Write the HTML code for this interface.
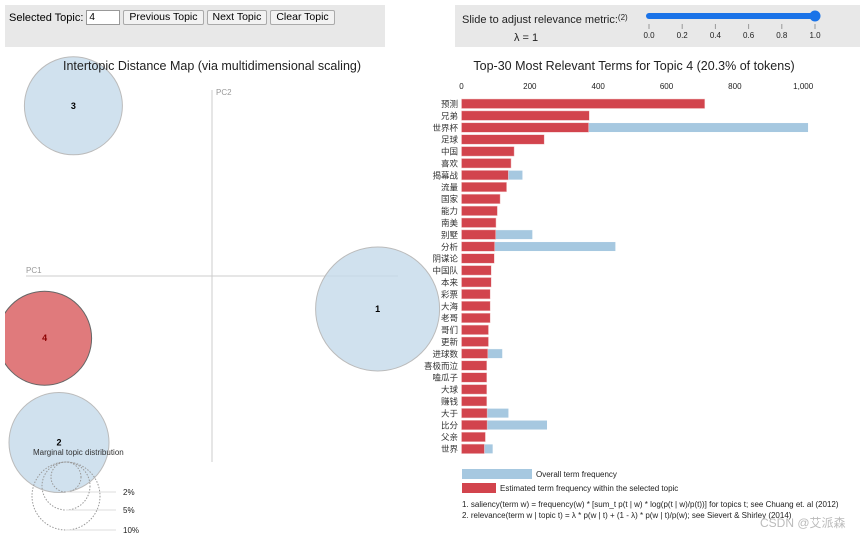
<!DOCTYPE html>
<html><head><meta charset="utf-8"><style>
body{margin:0;width:865px;height:540px;background:#fff;font-family:"Liberation Sans","Noto Sans CJK SC",sans-serif;overflow:hidden;position:relative}
.box{position:absolute;background:#e8e8e8}
button{font-family:"Liberation Sans",sans-serif;font-size:10.5px;padding:1px 5px;border:1px solid #aaa;background:#f2f2f2;border-radius:2px;height:15px;line-height:11px;margin-left:3px}
</style></head><body>
<div class="box" style="left:5px;top:5px;width:380px;height:42px"></div>
<div style="position:absolute;left:9px;top:10px;font-size:11px;display:flex;align-items:center">
<span>Selected Topic:</span>
<input value="4" style="width:28px;height:11px;font-size:10px;margin-left:3px;padding:1px 2px;border:1px solid #999">
<button>Previous Topic</button>
<button>Next Topic</button>
<button>Clear Topic</button>
</div>
<div class="box" style="left:455px;top:5px;width:405px;height:42px"></div>
<svg width="865" height="540" style="position:absolute;left:0;top:0" font-family="Liberation Sans, Noto Sans CJK SC, sans-serif">
<text x="462" y="23" font-size="11" fill="#222">Slide to adjust relevance metric:<tspan font-size="8" dy="-3">(2)</tspan></text>
<text x="514" y="41" font-size="11" fill="#222">λ = 1</text>
<line x1="649" y1="16" x2="815" y2="16" stroke="#1a73e8" stroke-width="6" stroke-linecap="round"/>
<circle cx="815" cy="16" r="5.5" fill="#1a73e8"/>
<g id="sticks" font-size="8" fill="#222" text-anchor="middle"></g>
<line x1="26" y1="276" x2="398" y2="276" stroke="#ccc"/>
<line x1="212" y1="90" x2="212" y2="462" stroke="#ccc"/>
<text x="26" y="273" font-size="8" fill="#999">PC1</text>
<text x="216" y="95" font-size="8" fill="#999">PC2</text>
<clipPath id="cl"><rect x="5" y="50" width="440" height="490"/></clipPath>
<g id="topics" clip-path="url(#cl)"></g>
<text x="212" y="70" font-size="12.5" text-anchor="middle" fill="#222">Intertopic Distance Map (via multidimensional scaling)</text>
<text x="634" y="70" font-size="12.5" text-anchor="middle" fill="#222">Top-30 Most Relevant Terms for Topic 4 (20.3% of tokens)</text>
<text x="33" y="455" font-size="8" fill="#333">Marginal topic distribution</text>
<g id="marg" fill="none" stroke="#999" stroke-dasharray="1.5,1.5" font-size="8"></g>
<g id="bars"></g>
<rect x="462" y="469" width="70" height="10" fill="#a6c8e0"/>
<text x="536" y="477" font-size="8" fill="#222">Overall term frequency</text>
<rect x="462" y="483" width="34" height="10" fill="#d2444d"/>
<text x="500" y="491" font-size="8" fill="#222">Estimated term frequency within the selected topic</text>
<text x="462" y="507" font-size="8" fill="#222">1. saliency(term w) = frequency(w) * [sum_t p(t | w) * log(p(t | w)/p(t))] for topics t; see Chuang et. al (2012)</text>
<text x="462" y="518" font-size="8" fill="#222">2. relevance(term w | topic t) = λ * p(w | t) + (1 - λ) * p(w | t)/p(w); see Sievert &amp; Shirley (2014)</text>
<text x="760" y="527" font-size="12" fill="#bbb">CSDN @艾派森</text>
</svg>
<script>
const terms=["预测","兄弟","世界杯","足球","中国","喜欢","揭幕战","流量","国家","能力","南美","别墅","分析","阴谋论","中国队","本来","彩票","大海","老哥","哥们","更新","进球数","喜极而泣","嗑瓜子","大球","赚钱","大于","比分","父亲","世界"];
const topicFreq=[712,374,372,242,154,145,137,132,113,105,101,100,97,96,87,87,84,84,84,79,79,77,74,74,74,74,75,75,70,67];
const totalFreq=[712,374,1015,242,154,145,179,132,113,105,101,208,451,96,87,87,84,84,84,79,79,120,74,74,74,74,138,251,70,92];
const xTicks=[0,200,400,600,800,1000];
const xTickLabels=["0","200","400","600","800","1,000"];
const topicIds=[1,2,3,4];
const topicX=[0.92,-0.85,-0.77,-0.93];
const topicY=[-0.18,-0.91,0.93,-0.34];
const topicSize=[62,50,49,47];
const lambdaTicks=["0.0","0.2","0.4","0.6","0.8","1.0"];
const margLabels=["2%","5%","10%"];
const margR=[15,24,34];
const NS="http://www.w3.org/2000/svg";
function mk(t,a,p){const e=document.createElementNS(NS,t);for(const k in a)e.setAttribute(k,a[k]);p.appendChild(e);return e;}
const x=v=>461.5+v*0.3417;
const rowY=i=>99+i*11.9;
const mx=v=>212+v*180, my=v=>276-v*183;
const bars=document.getElementById('bars');
xTicks.forEach((t,i)=>{const e=mk('text',{x:x(t),y:89,'font-size':8,'text-anchor':'middle',fill:'#222'},bars);e.textContent=xTickLabels[i];

});
terms.forEach((t,i)=>{
 const b=mk('rect',{x:x(0),y:rowY(i),width:x(totalFreq[i])-x(0),height:9.5,fill:'#a6c8e0',stroke:'#fff','stroke-width':0.5},bars);
 
 
 const r=mk('rect',{x:x(0),y:rowY(i),width:x(topicFreq[i])-x(0),height:9.5,fill:'#d2444d',stroke:'#f3c9cb','stroke-width':0.5},bars);
 
 
 const l=mk('text',{x:458,y:rowY(i)+8,'font-size':8.5,'text-anchor':'end',fill:'#333'},bars);l.textContent=t;
 
 
});
const tg=document.getElementById('topics');
topicIds.forEach((id,i)=>{
 const sel=id===4;
 const c=mk('circle',{cx:mx(topicX[i]),cy:my(topicY[i]),r:topicSize[i],fill:sel?'#e07a7c':'#c4d9ea','fill-opacity':sel?1:0.8,stroke:sel?'#666':'#bbb','stroke-width':1},tg);
 
 
 const t=mk('text',{x:mx(topicX[i]),y:my(topicY[i])+3,'font-size':9,'font-weight':'bold','text-anchor':'middle',fill:sel?'#8b0000':'#000'},tg);t.textContent=id;
 
 
});
const mg=document.getElementById('marg');
margR.forEach((r,i)=>{
 const c=mk('circle',{cx:66,cy:462+r,r:r},mg);
 
 
 const l=mk('line',{x1:66,y1:462+2*r,x2:116,y2:462+2*r,stroke:'#ddd','stroke-dasharray':'none'},mg);
 const t=mk('text',{x:123,y:465+2*r,fill:'#222',stroke:'none'},mg);t.textContent=margLabels[i];
 
 
});
const st=document.getElementById('sticks');
lambdaTicks.forEach((t,i)=>{const xx=649+i*33.2;
 mk('line',{x1:xx,y1:24,x2:xx,y2:29,stroke:'#999'},st);
 const e=mk('text',{x:xx,y:38},st);e.textContent=t;
 
 });
</script>
</body></html>
